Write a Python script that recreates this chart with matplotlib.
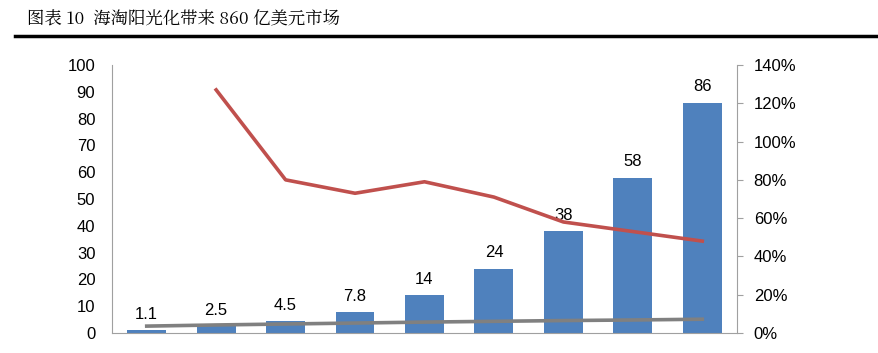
import numpy as np
import matplotlib.pyplot as plt

plt.rcParams['font.family'] = ['Liberation Sans', 'Noto Sans CJK SC', 'DejaVu Sans']

# -----------------------------
# DATA
# -----------------------------
categories = ["2010", "2011", "2012", "2013", "2014", "2015", "2016", "2017", "2018"]
market = [1.1, 2.5, 4.5, 7.8, 14, 24, 38, 58, 86]          # 亿美元
growth = [np.nan, 127, 80, 73, 79, 71, 58, 53, 48]          # %
share = [3.6, 4.2, 4.7, 5.2, 5.7, 6.1, 6.5, 6.8, 7.2]       # %
bar_labels = ["1.1", "2.5", "4.5", "7.8", "14", "24", "38", "58", "86"]

BLUE = "#4F81BD"
RED = "#C0504D"
GREY = "#808080"
SPINE = "#A0A0A0"

fig = plt.figure(figsize=(8.79, 3.53), dpi=100)
ax = fig.add_axes([112 / 879, 20 / 353, 625 / 879, 268 / 353])
ax2 = ax.twinx()

x = np.arange(len(categories))
ax.bar(x, market, width=0.56, color=BLUE, zorder=2)
for xi, v, lab in zip(x, market, bar_labels):
    ax.annotate(lab, (xi, v), xytext=(0, 6), textcoords="offset points",
                ha="center", va="bottom", fontsize=12)

ax2.plot(x, growth, color=RED, lw=2.6, zorder=3)
ax2.plot(x, share, color=GREY, lw=2.6, zorder=3)

ax.set_xlim(-0.5, len(categories) - 0.5)
ax.set_ylim(0, 100)
ax.set_yticks(range(0, 101, 10))
ax2.set_ylim(0, 140)
ax2.set_yticks(range(0, 141, 20))
ax2.set_yticklabels([f"{t}%" for t in range(0, 141, 20)])

# category labels sit below the crop, as in the source image
ax.set_xticks(x)
ax.set_xticklabels(categories, fontsize=12)
ax.tick_params(axis="x", length=0, pad=15)

for a in (ax, ax2):
    a.spines["top"].set_visible(False)
    for s in ("left", "right", "bottom"):
        a.spines[s].set_color(SPINE)
ax.spines["right"].set_visible(False)
ax2.spines["left"].set_visible(False)
ax2.spines["bottom"].set_visible(False)
ax.tick_params(axis="y", length=0, labelsize=12, pad=12)
ax2.tick_params(axis="y", length=4, color=SPINE, labelsize=12, pad=8)
ax.set_zorder(1)
ax2.set_zorder(2)
ax2.patch.set_visible(False)

fig.text(27 / 879, 1 - 20 / 353, "图表 10  海淘阳光化带来 860 亿美元市场",
         fontsize=12.5, va="center", ha="left", family=["Noto Serif CJK SC", "Noto Sans CJK SC", "DejaVu Sans"])
fig.add_artist(plt.Line2D([15 / 879, 1.0], [1 - 36 / 353] * 2, color="black", lw=2.5,
                          transform=fig.transFigure))

fig.savefig("out.png", dpi=100)
